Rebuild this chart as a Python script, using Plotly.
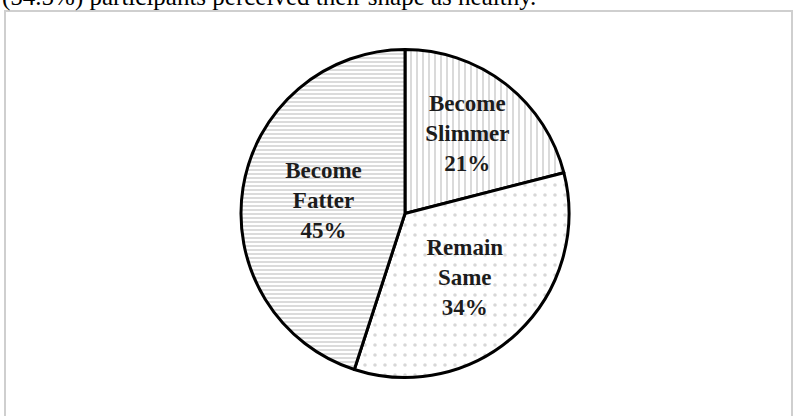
import plotly.graph_objects as go

categories = ["Become Slimmer", "Remain Same", "Become Fatter"]
label_lines = ["Become<br>Slimmer", "Remain<br>Same", "Become<br>Fatter"]
values = [21, 34, 45]
patterns = ["|", ".", "-"]
caption = "(54.5%) participants perceived their shape as healthy."

texts = [f"{l}<br>{v}%" for l, v in zip(label_lines, values)]

W, H = 793, 416
cx, cy, r = 405, 213.5, 164

fig = go.Figure(go.Pie(
    labels=categories,
    values=values,
    text=texts,
    textinfo="text",
    textposition="inside",
    insidetextorientation="horizontal",
    sort=False,
    direction="clockwise",
    rotation=0,
    hoverinfo="label+percent",
    marker=dict(
        colors=["white", "white", "white"],
        line=dict(color="black", width=3),
        pattern=dict(
            shape=patterns,
            fgcolor=["#8f8f8f", "#b0b0b0", "#8f8f8f"],
            bgcolor=["white", "white", "white"],
            size=[6, 10, 4],
            solidity=[0.22, 0.1, 0.32],
            fillmode="overlay",
        ),
    ),
    insidetextfont=dict(family="Liberation Serif", size=23, color="#1c1c1c", weight="bold"),
    domain=dict(x=[(cx - 200) / W, (cx + 200) / W], y=[1 - (cy + r) / H, 1 - (cy - r) / H]),
    showlegend=False,
))

fig.add_shape(type="rect", xref="paper", yref="paper",
              x0=5 / W, x1=792 / W, y0=-0.1, y1=1 - 11 / H,
              line=dict(color="#cfcfcf", width=2), fillcolor="rgba(0,0,0,0)", layer="below")

fig.add_annotation(text=caption, xref="paper", yref="paper", x=0, y=1 - 13 / H,
                   xanchor="left", yanchor="bottom", showarrow=False,
                   font=dict(family="Liberation Serif", size=25, color="black"))

fig.update_layout(width=W, height=H, margin=dict(l=0, r=0, t=0, b=0),
                  paper_bgcolor="white", plot_bgcolor="white")

fig.write_html("out.html")
